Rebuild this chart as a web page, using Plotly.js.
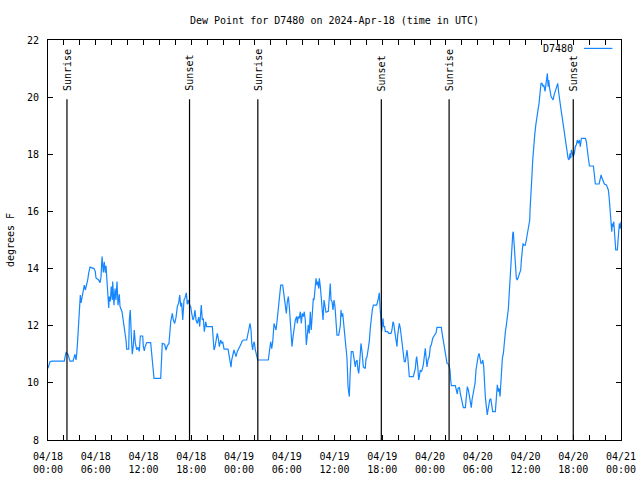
<!DOCTYPE html>
<html>
<head>
<meta charset="utf-8">
<script src="https://cdn.plot.ly/plotly-3.0.1.min.js"></script>
<style>html,body{margin:0;padding:0;background:#fff;}#chart{width:640px;height:480px;}</style>
</head>
<body>
<div id="chart"></div>
<script>
// Hours since 2024-04-18 00:00 UTC
const hours = [
0.00,0.25,0.50,2.05,2.14,2.26,2.51,2.76,3.14,3.39,3.52,3.61,3.73,3.86,3.93,4.06,4.15,4.27,4.44,4.56,4.69,4.86,4.99,5.11,5.28,5.78,5.94,6.03,6.37,6.53,6.66,6.79,6.95,7.07,7.20,7.29,7.38,7.54,7.63,7.70,7.83,7.95,8.08,8.13,8.29,8.42,8.54,8.67,8.80,8.96,9.05,9.30,9.46,9.64,9.80,9.89,10.14,10.22,10.34,10.47,10.59,10.72,10.84,10.97,11.15,11.31,11.47,11.60,11.90,11.98,12.10,
12.19,12.40,12.90,12.98,13.11,13.32,14.16,14.24,14.36,14.66,14.83,14.99,15.20,15.42,15.62,15.75,15.92,16.09,16.25,16.42,16.55,16.68,16.80,16.93,17.09,17.25,17.38,17.50,17.63,17.72,17.93,18.06,18.22,18.35,18.47,18.60,18.76,18.94,19.06,19.26,19.39,19.52,19.64,19.82,19.94,20.65,20.77,20.86,20.99,21.11,21.27,21.40,21.53,21.70,21.83,21.95,22.12,22.62,22.75,22.87,23.00,23.08,23.21,23.37,23.50,23.62,23.79,24.00,24.21,24.38,24.54,
24.97,25.05,25.22,25.38,25.51,25.60,25.72,25.80,25.92,26.05,26.22,26.35,27.68,27.81,27.98,28.11,28.24,28.40,28.53,28.65,28.82,28.99,29.15,29.24,29.49,29.57,29.69,29.82,29.95,30.07,30.20,30.32,30.41,30.54,30.66,30.79,30.91,31.08,31.25,31.33,31.45,31.58,31.70,31.83,31.95,32.08,32.20,32.33,32.46,32.58,32.71,32.83,32.96,33.08,33.21,33.34,33.43,33.55,33.68,33.80,33.89,34.02,34.09,34.22,34.34,34.47,34.56,34.68,34.81,34.93,35.22,35.35,35.47,35.56,35.69,35.81,35.94,36.06,36.19,
36.31,36.53,36.60,36.73,36.82,36.90,37.03,37.11,37.23,37.36,37.48,37.57,37.70,37.78,37.86,37.95,38.04,38.11,38.32,38.49,38.61,38.70,38.83,38.95,39.04,39.12,39.24,39.33,39.46,39.54,39.62,39.87,39.96,40.08,40.21,40.37,40.50,40.62,40.75,40.88,41.30,41.47,41.55,41.63,41.72,41.80,41.93,42.00,42.09,42.18,42.30,42.38,42.68,42.81,43.10,43.22,43.35,43.44,43.51,43.64,43.76,43.85,43.94,44.07,44.14,44.27,44.40,44.52,44.65,44.77,44.90,45.02,45.11,45.20,45.28,45.40,45.90,46.03,46.16,46.25,46.33,46.46,46.58,46.66,46.78,46.91,47.00,47.16,47.29,47.41,47.50,47.62,47.75,47.91,48.04,48.17,48.34,48.47,48.67,
48.76,48.88,49.42,49.51,49.64,49.76,49.89,50.01,50.14,50.35,50.51,50.60,50.68,51.18,51.31,51.43,51.52,51.69,51.82,51.94,52.07,52.19,52.44,52.57,52.69,52.82,52.94,53.07,53.19,53.28,53.41,53.53,53.66,53.78,53.91,54.04,54.16,54.29,54.41,54.54,54.63,54.75,54.83,54.95,55.08,55.20,55.29,55.38,55.50,55.63,55.76,55.88,56.21,56.34,56.46,56.59,56.68,56.80,56.89,56.97,57.09,57.22,57.34,57.47,57.60,57.72,57.85,57.97,58.10,58.19,58.27,58.40,58.47,58.56,58.65,58.72,58.85,58.97,59.15,59.28,59.40,59.48,59.56,59.69,59.81,59.98,60.10,60.23,60.41,60.53,
60.57,60.70,60.78,60.91,61.03,61.16,61.29,61.41,61.54,61.70,61.83,61.95,62.08,62.20,62.29,62.37,62.46,62.58,62.67,62.75,62.84,62.92,63.00,63.09,63.21,63.34,63.47,63.59,63.72,63.84,63.97,64.05,64.13,64.22,64.35,64.47,64.60,64.72,64.85,64.97,65.10,65.22,65.35,65.47,65.60,65.69,65.76,65.89,66.01,66.14,66.26,66.39,66.51,66.64,66.77,66.89,67.02,67.52,67.65,67.77,67.90,68.03,68.53,68.66,68.78,69.25,69.37,69.50,69.62,69.79,69.91,70.16,70.29,70.41,70.50,70.59,70.66,70.75,70.84,70.91,71.00,71.09,71.17,71.25,71.34,71.54,71.63,71.72,71.79,71.92,72.00
];

// Dew point, degrees F
const dewPoint = [
10.51,10.74,10.76,10.76,10.9,11.06,11.0,10.76,10.76,11.0,10.8,11.0,11.5,12.1,12.72,13.07,12.8,13.0,13.25,13.42,13.25,13.4,13.6,13.84,14.05,14.0,13.9,13.67,13.6,13.5,13.7,14.42,13.86,14.24,13.86,14.1,13.7,13.02,12.62,13.02,12.85,13.37,12.9,13.55,12.72,13.3,12.9,13.55,12.72,13.1,12.67,12.49,12.2,11.92,11.5,11.18,11.18,12.2,12.55,11.62,11.0,11.3,11.85,11.4,11.15,11.25,11.1,11.64,11.64,11.27,11.12,
11.25,11.41,11.41,11.15,10.63,10.16,10.16,10.8,11.38,11.35,11.15,11.3,11.38,12.14,12.43,12.2,12.08,12.3,12.67,12.8,13.07,12.67,12.8,12.2,12.9,13.0,13.15,12.75,12.9,12.78,12.67,12.43,12.2,12.3,12.55,12.2,12.08,12.3,11.97,12.72,12.2,12.25,11.79,12.14,11.97,11.97,11.56,11.15,11.27,11.5,11.73,11.56,11.27,11.5,11.38,11.44,11.18,11.18,10.92,10.68,10.55,10.8,10.92,11.15,11.03,10.92,11.1,11.2,11.33,11.45,11.5,
11.5,11.67,11.85,12.08,11.85,11.38,11.15,11.35,11.44,11.15,10.97,10.8,10.8,11.15,11.44,11.2,11.44,12.08,11.97,11.85,12.26,12.78,13.19,13.42,13.42,13.25,12.9,12.73,12.43,12.84,13.02,12.67,12.2,11.73,11.27,11.62,11.85,12.2,12.32,12.08,12.32,12.26,12.49,12.08,12.43,12.32,12.49,12.2,11.33,11.62,12.03,11.73,12.49,11.85,12.67,12.96,12.9,13.25,13.66,13.42,13.54,13.3,13.66,13.37,13.02,12.55,12.2,12.9,12.67,12.47,12.5,13.25,13.48,12.9,12.84,12.55,12.9,12.67,12.08,
11.67,11.67,11.85,12.0,12.55,12.32,12.43,12.2,12.08,11.73,11.38,10.86,9.87,9.75,9.52,10.2,10.68,11.09,11.09,10.68,10.56,10.74,10.8,10.45,10.33,10.56,10.9,11.38,11.09,10.8,10.56,10.5,10.85,10.9,11.09,11.44,11.91,12.32,12.55,12.72,12.72,12.9,13.07,13.15,12.67,12.14,11.8,12.0,12.26,11.97,11.97,11.79,11.79,11.73,11.73,11.85,12.14,12.08,11.85,11.67,11.44,11.27,11.67,11.85,12.08,11.91,11.56,11.21,10.92,10.74,10.74,10.97,11.15,10.92,10.51,10.22,10.22,10.33,10.51,10.8,10.92,10.56,10.1,10.22,10.45,10.4,10.45,10.63,10.92,11.21,10.92,10.56,10.8,10.92,11.27,11.33,11.56,11.62,11.67,
11.75,11.94,11.94,11.76,11.5,11.27,11.03,10.85,10.68,10.65,10.45,10.1,9.9,9.9,9.75,9.61,9.8,9.85,9.61,9.4,9.31,9.13,9.13,9.69,9.87,9.75,9.52,9.28,9.13,9.4,9.57,9.75,9.98,10.45,10.74,10.92,11.03,10.8,10.68,10.7,10.8,10.56,9.98,9.52,9.17,8.88,9.05,9.28,9.4,9.45,9.22,8.99,8.99,9.4,9.93,9.69,9.81,9.52,10.1,10.51,10.86,11.03,11.5,11.79,12.03,12.32,12.61,13.19,13.95,14.47,14.94,15.23,15.29,14.88,14.42,13.83,13.66,13.6,13.72,13.83,13.95,14.3,14.65,14.88,14.82,14.82,15.0,15.23,15.47,15.7,
16.05,16.52,17.1,17.8,18.33,18.68,19.02,19.37,19.49,19.78,20.13,20.48,20.48,20.37,20.43,20.31,20.2,20.48,20.72,20.83,20.37,20.6,20.37,20.13,20.02,19.96,19.9,20.07,20.2,20.31,20.43,20.48,20.25,20.02,19.78,19.55,19.31,19.08,18.79,18.5,18.27,18.03,17.86,17.8,18.03,17.86,18.15,18.03,17.92,18.03,18.27,18.33,18.5,18.38,18.5,18.27,18.56,18.56,18.44,18.15,17.8,17.59,17.59,17.28,16.96,16.96,17.1,17.28,17.16,17.05,16.96,16.93,16.81,16.75,16.52,16.17,15.82,15.47,15.29,15.58,15.47,15.64,15.4,14.88,14.65,14.65,15.0,15.35,15.58,15.4,15.64
];

const sunEventTimes = ['2024-04-18 02:23','2024-04-18 17:47','2024-04-19 02:22','2024-04-19 17:53','2024-04-20 02:24','2024-04-20 18:00'];
const sunEventLabels = ['Sunrise','Sunset','Sunrise','Sunset','Sunrise','Sunset'];

const seriesName = 'D7480';
const titleText = 'Dew Point for D7480 on 2024-Apr-18 (time in UTC)';
const yTitle = 'degrees F';

const t0 = Date.UTC(2024, 3, 18);
function toStamp(h) {
  return new Date(t0 + Math.round(h * 3600000)).toISOString().replace('T', ' ').slice(0, 19);
}
const times = hours.map(toStamp);

const FONT = 'DejaVu Sans Mono, Liberation Mono, monospace';
const LINE_COLOR = 'rgb(20,134,255)';

const markTop = 19.93;   // top of the sunrise/sunset markers
const labelBase = 20.14; // bottom of the rotated labels

const shapes = sunEventTimes.map(t => ({
  type: 'line', xref: 'x', yref: 'y', x0: t, x1: t, y0: 8, y1: markTop,
  line: {color: 'black', width: 1.2}
}));
shapes.push({
  type: 'line', xref: 'paper', yref: 'paper', x0: 0.9355, x1: 0.985, y0: 0.979, y1: 0.979,
  line: {color: LINE_COLOR, width: 1.2}
});

const annotations = sunEventTimes.map((t, i) => ({
  x: t, y: labelBase, xref: 'x', yref: 'y', text: sunEventLabels[i],
  textangle: -90, showarrow: false, xanchor: 'center', yanchor: 'bottom',
  font: {family: FONT, size: 10, color: 'black'}
}));
annotations.push({
  x: 0.92, y: 0.9775, xref: 'paper', yref: 'paper', text: seriesName,
  showarrow: false, xanchor: 'right', yanchor: 'middle',
  font: {family: FONT, size: 10, color: 'black'}
});

const trace = {
  x: times, y: dewPoint, type: 'scatter', mode: 'lines', name: seriesName,
  line: {color: LINE_COLOR, width: 1.2}, hoverinfo: 'skip'
};

const layout = {
  width: 640, height: 480,
  margin: {l: 48, r: 19, t: 40, b: 40, pad: 0},
  paper_bgcolor: 'white', plot_bgcolor: 'white',
  showlegend: false,
  font: {family: FONT, size: 10, color: 'black'},
  title: {text: titleText, x: 0.5, xref: 'paper', xanchor: 'center', y: 1 - 20/480, yref: 'container', yanchor: 'middle',
          font: {family: FONT, size: 10, color: 'black'}},
  xaxis: {
    type: 'date', range: ['2024-04-18 00:00', '2024-04-21 00:00'],
    tick0: '2024-04-18 00:00', dtick: 6*3600000, tickformat: '%m/%d<br>%H:%M',
    ticks: 'inside', ticklen: 5, tickcolor: 'black', tickwidth: 1,
    showline: true, linecolor: 'black', linewidth: 1, mirror: 'ticks',
    showgrid: false, zeroline: false, automargin: false, ticklabelstandoff: 7,
    minor: {dtick: 2*3600000, tick0: '2024-04-18 00:00', ticks: 'inside', ticklen: 5, tickcolor: 'black', showgrid: false},
    tickfont: {family: FONT, size: 10, color: 'black'}
  },
  yaxis: {
    range: [8, 22], dtick: 2, tick0: 8,
    ticks: 'inside', ticklen: 5, tickcolor: 'black', tickwidth: 1,
    showline: true, linecolor: 'black', linewidth: 1, mirror: 'ticks',
    showgrid: false, zeroline: false, automargin: false, ticklabelstandoff: 6,
    tickfont: {family: FONT, size: 10, color: 'black'},
    title: {text: yTitle, standoff: 10, font: {family: FONT, size: 10, color: 'black'}}
  },
  shapes: shapes,
  annotations: annotations
};

Plotly.newPlot('chart', [trace], layout, {staticPlot: true, displayModeBar: false});
</script>
</body>
</html>
